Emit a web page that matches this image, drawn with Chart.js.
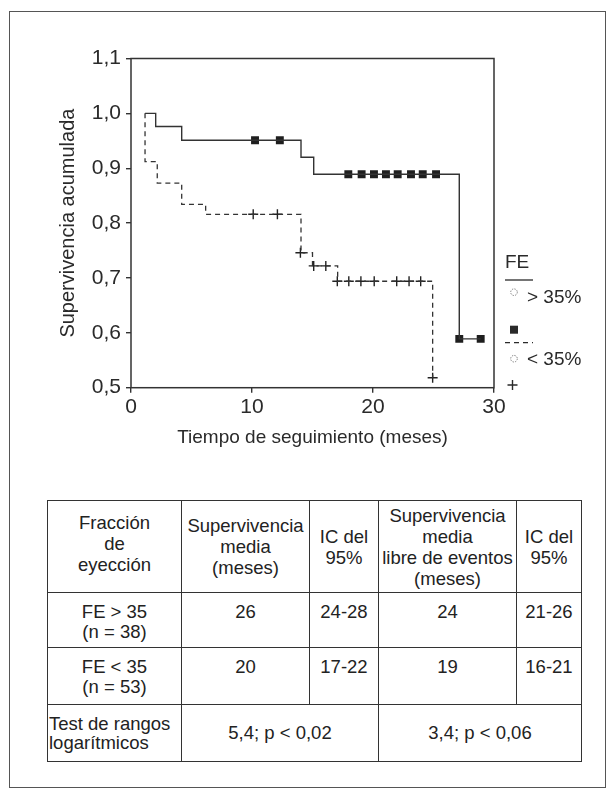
<!DOCTYPE html>
<html>
<head>
<meta charset="utf-8">
<title>Supervivencia acumulada</title>
<script src="https://cdn.jsdelivr.net/npm/chart.js@4.4.1/dist/chart.umd.min.js"></script>
<style>
body{margin:0;background:#fff;color:#222;font-family:'Liberation Sans',Arial,sans-serif;}
#frame{position:absolute;left:9px;top:11px;width:595px;height:775px;border:1.5px solid #555;}
#plot{position:absolute;left:0;top:0;width:614px;height:460px;}
table{position:absolute;left:47px;top:500px;border-collapse:collapse;font-size:18.5px;line-height:19.5px;table-layout:fixed;}
td{border:1.5px solid #333;text-align:center;vertical-align:middle;padding:0 1px;white-space:nowrap;overflow:visible;}
tr.cab td{line-height:21px;}
tr.cab td.primera{padding-bottom:7px;}
tr.dat td{vertical-align:top;padding-top:9px;}
td.izq{text-align:left;}
</style>
</head>
<body>
<div id="frame"></div>
<div id="plot"><canvas id="km"></canvas></div>

<table>
<colgroup><col style="width:134px"><col style="width:128px"><col style="width:69px"><col style="width:138px"><col style="width:65px"></colgroup>
<tr class="cab" style="height:92px">
 <td class="primera">Fracción<br>de<br>eyección</td>
 <td>Supervivencia<br>media<br>(meses)</td>
 <td>IC del<br>95%</td>
 <td>Supervivencia<br>media<br>libre de eventos<br>(meses)</td>
 <td>IC del<br>95%</td>
</tr>
<tr class="dat" style="height:55px">
 <td>FE &gt; 35<br>(n = 38)</td><td>26</td><td>24-28</td><td>24</td><td>21-26</td>
</tr>
<tr class="dat" style="height:57px">
 <td>FE &lt; 35<br>(n = 53)</td><td>20</td><td>17-22</td><td>19</td><td>16-21</td>
</tr>
<tr style="height:57px">
 <td class="izq">Test de rangos<br>logarítmicos</td><td colspan="2">5,4; p &lt; 0,02</td><td colspan="2">3,4; p &lt; 0,06</td>
</tr>
</table>

<script>
var fuente="'Liberation Sans',Arial,sans-serif";
var xTicks=[0,10,20,30];
var yTicks=[0.5,0.6,0.7,0.8,0.9,1.0,1.1];
var tituloLeyenda='FE';
var etiquetas=['> 35%','< 35%'];

// FE > 35%: escalones (tiempo en meses, supervivencia)
var altoT=[1.16,2.04,4.19,14.05,15.1,27.13,28.9];
var altoS=[1.0,0.976,0.951,0.92,0.889,0.589,0.589];
var altoCensT=[10.25,12.3,17.96,19.06,20.08,21.07,22.04,23.14,24.11,25.21,27.13,28.9];
var altoCensS=[0.951,0.951,0.889,0.889,0.889,0.889,0.889,0.889,0.889,0.889,0.589,0.589];

// FE < 35%
var bajoT=[1.16,1.16,2.17,4.19,6.17,14.05,15.0,17.08,24.93];
var bajoS=[1.0,0.912,0.873,0.834,0.816,0.746,0.722,0.694,0.518];
var bajoCensT=[10.1,12.1,14.0,15.1,16.1,17.05,18.0,19.0,20.1,21.96,22.98,23.94,24.93];
var bajoCensS=[0.816,0.816,0.746,0.722,0.722,0.694,0.694,0.694,0.694,0.694,0.694,0.694,0.518];

function pares(t,s){
 var r=[];
 for(var i=0;i<t.length;i++) r.push({x:t[i],y:s[i]});
 return r;
}
function coma(v){ return v.toFixed(1).replace('.',','); }

var tinta='#2a2a2a';

var marco={
 id:'marco',
 beforeDatasetsDraw:function(chart){
  var a=chart.chartArea,c=chart.ctx;
  c.save();
  c.strokeStyle='#333';c.lineWidth=1.5;
  c.strokeRect(a.left,a.top,a.right-a.left,a.bottom-a.top);
  c.restore();
 },
 afterDraw:function(chart){
  var a=chart.chartArea,c=chart.ctx;
  var x0=a.right+11,b=a.bottom;
  c.save();
  c.fillStyle=tinta;c.strokeStyle=tinta;
  c.font='19px '+fuente;
  c.textBaseline='middle';c.textAlign='left';
  c.fillText(tituloLeyenda,x0,b-125);
  // linea continua
  c.lineWidth=1.3;
  c.beginPath();c.moveTo(x0,b-107.7);c.lineTo(x0+28,b-107.7);c.stroke();
  // linea discontinua
  c.setLineDash([5,4]);
  c.beginPath();c.moveTo(x0,b-45);c.lineTo(x0+28,b-45);c.stroke();
  c.setLineDash([]);
  // iconos punteados
  c.lineWidth=1;c.strokeStyle='#777';c.setLineDash([1.3,1.3]);
  c.beginPath();c.arc(x0+9,b-95.5,3.3,0,Math.PI*2);c.stroke();
  c.beginPath();c.arc(x0+9,b-29,3.3,0,Math.PI*2);c.stroke();
  c.setLineDash([]);
  c.fillText(etiquetas[0],x0+22,b-90);
  c.fillText(etiquetas[1],x0+22,b-28);
  // marcador cuadrado y cruz
  c.fillRect(x0+5,b-62,8,8);
  c.strokeStyle=tinta;c.lineWidth=1.4;
  c.beginPath();
  c.moveTo(x0+2.5,b-2.7);c.lineTo(x0+12.5,b-2.7);
  c.moveTo(x0+7.5,b-7.7);c.lineTo(x0+7.5,b+2.3);
  c.stroke();
  c.restore();
 }
};

Chart.defaults.font.family=fuente;
Chart.defaults.color=tinta;

new Chart(document.getElementById('km'),{
 type:'line',
 data:{
  datasets:[
   {label:etiquetas[0],data:pares(altoT,altoS),stepped:'before',borderColor:'#333',borderWidth:1.4,pointRadius:0,fill:false},
   {label:etiquetas[1],data:pares(bajoT,bajoS),stepped:'before',borderColor:'#333',borderWidth:1.3,borderDash:[5,4],pointRadius:0,fill:false},
   {type:'scatter',data:pares(altoCensT,altoCensS),pointStyle:'rect',pointRadius:5.6,backgroundColor:'#1e1e1e',borderColor:'#1e1e1e',borderWidth:0,showLine:false},
   {type:'scatter',data:pares(bajoCensT,bajoCensS),pointStyle:'cross',pointRadius:5,borderColor:'#222',borderWidth:1.4,showLine:false}
  ]
 },
 options:{
  animation:false,
  responsive:true,
  maintainAspectRatio:false,
  layout:{padding:{top:58.5,right:120,left:0,bottom:0}},
  plugins:{legend:{display:false},tooltip:{enabled:false}},
  scales:{
   x:{
    type:'linear',min:0,max:30,
    afterBuildTicks:function(s){ s.ticks=xTicks.map(function(v){return {value:v};}); },
    afterFit:function(s){ s.height=72.3; },
    border:{display:false},
    grid:{drawOnChartArea:false,drawTicks:true,tickLength:5,color:'#333',lineWidth:1.4},
    ticks:{font:{size:21},padding:2,color:tinta},
    title:{display:true,text:'Tiempo de seguimiento (meses)',font:{size:19},color:tinta,padding:{top:0,bottom:11}}
   },
   y:{
    type:'linear',min:0.5,max:1.1,
    afterBuildTicks:function(s){ s.ticks=yTicks.map(function(v){return {value:v};}); },
    afterFit:function(s){ s.width=131; },
    border:{display:false},
    grid:{drawOnChartArea:false,drawTicks:true,tickLength:5,color:'#333',lineWidth:1.4},
    ticks:{font:{size:21},padding:5,color:tinta,callback:function(v){return coma(v);}},
    title:{display:true,text:'Supervivencia acumulada',font:{size:20},color:tinta,padding:{top:56,bottom:0}}
   }
  }
 },
 plugins:[marco]
});
</script>
</body>
</html>
